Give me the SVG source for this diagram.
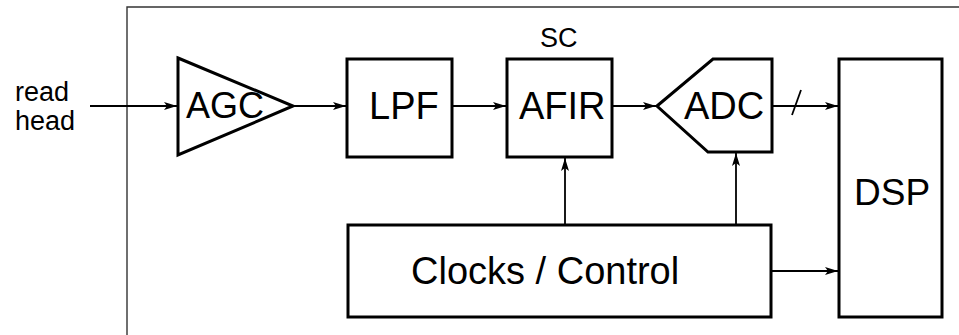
<svg xmlns="http://www.w3.org/2000/svg" width="959" height="335" viewBox="0 0 959 335">
<style>
.blk{fill:#fff;stroke:#000;stroke-width:3;stroke-linejoin:miter}
.frame{fill:none;stroke:#333;stroke-width:1.4}
.con{fill:none;stroke:#000;stroke-width:1.8}
text{font-family:"Liberation Sans",Arial,sans-serif;fill:#000}
.lbl{font-size:38px}
</style>
<defs>
<marker id="ah" markerUnits="userSpaceOnUse" markerWidth="14" markerHeight="10" refX="13" refY="4" orient="auto">
<path d="M0,0 L13,4 L0,8 L3,4 z" fill="#000"/>
</marker>
</defs>
<path class="frame" d="M127,335 V7 H959"/>
<g id="input-label">
<text x="15" y="101" font-size="27">read</text>
<text x="15" y="130" font-size="27">head</text>
</g>
<g id="agc">
<polygon class="blk" points="178,58 293,106 178,155"/>
<text x="186" y="118" font-size="36">AGC</text>
</g>
<g id="lpf">
<rect class="blk" x="347" y="59" width="105" height="98"/>
<text class="lbl" x="369" y="119">LPF</text>
</g>
<g id="afir">
<text x="540" y="47" font-size="27">SC</text>
<rect class="blk" x="507" y="59" width="105" height="98"/>
<text class="lbl" x="519" y="119">AFIR</text>
</g>
<g id="adc">
<polygon class="blk" points="657,106 713,59 772,59 772,152 708,152"/>
<text class="lbl" x="684" y="119">ADC</text>
</g>
<g id="dsp">
<rect class="blk" x="839" y="59" width="103" height="258"/>
<text x="854" y="205" font-size="37">DSP</text>
</g>
<g id="clocks">
<rect class="blk" x="348" y="225" width="423" height="92"/>
<text class="lbl" x="411" y="284">Clocks / Control</text>
</g>
<g id="connectors">
<path class="con" d="M90,106 H177" marker-end="url(#ah)"/>
<path class="con" d="M293,106 H346" marker-end="url(#ah)"/>
<path class="con" d="M452,106 H506" marker-end="url(#ah)"/>
<path class="con" d="M612,106 H656" marker-end="url(#ah)"/>
<path class="con" d="M772,106 H838" marker-end="url(#ah)"/>
<path class="con" d="M792,115 L801,90"/>
<path class="con" d="M565,225 V158" marker-end="url(#ah)"/>
<path class="con" d="M736,225 V153" marker-end="url(#ah)"/>
<path class="con" d="M771,271 H838" marker-end="url(#ah)"/>
</g>
</svg>
